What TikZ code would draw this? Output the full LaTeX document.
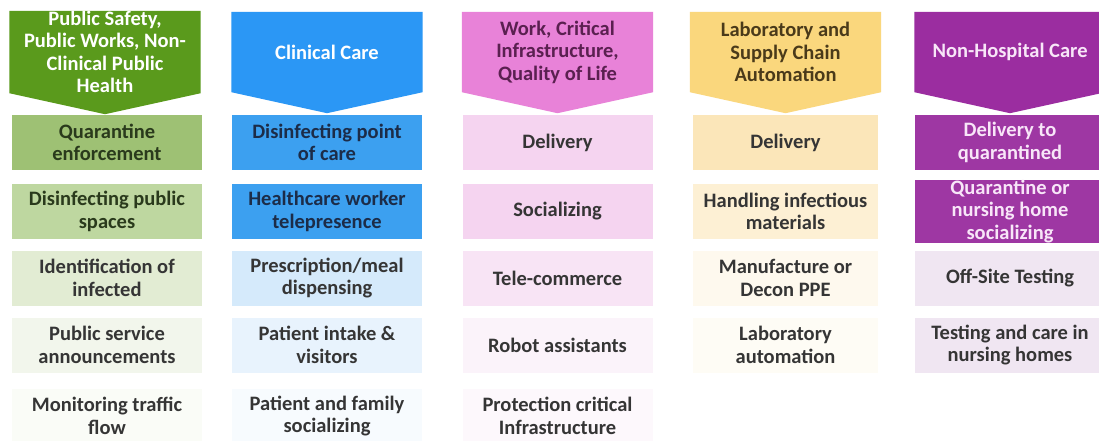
\documentclass[tikz,border=0pt]{standalone}
\usepackage{fontspec}
\setmainfont{Carlito}
\usetikzlibrary{calc,backgrounds}
\definecolor{grnHd}{HTML}{5A9A1C}
\definecolor{grnA}{HTML}{9EC174}
\definecolor{grnB}{HTML}{BED7A0}
\definecolor{grnC}{HTML}{E2ECD3}
\definecolor{grnD}{HTML}{F2F6EC}
\definecolor{grnE}{HTML}{FAFCF7}
\definecolor{bluHd}{HTML}{2B97F5}
\definecolor{bluA}{HTML}{3CA0F0}
\definecolor{bluC}{HTML}{D5EAFB}
\definecolor{bluD}{HTML}{E8F3FD}
\definecolor{bluE}{HTML}{F7FBFE}
\definecolor{pnkHd}{HTML}{E882D8}
\definecolor{pnkA}{HTML}{F5D4F0}
\definecolor{pnkC}{HTML}{F8E4F5}
\definecolor{pnkD}{HTML}{FBF3FA}
\definecolor{pnkE}{HTML}{FDF8FC}
\definecolor{ylwHd}{HTML}{FAD77D}
\definecolor{ylwA}{HTML}{FBE6B9}
\definecolor{ylwB}{HTML}{FDF0D4}
\definecolor{ylwC}{HTML}{FEF9EE}
\definecolor{ylwD}{HTML}{FEFCF5}
\definecolor{purHd}{HTML}{9B2DA0}
\definecolor{purA}{HTML}{9E37A3}
\definecolor{purC}{HTML}{F0E6F2}
\definecolor{txtDark}{HTML}{353535}
\definecolor{txtGrn}{HTML}{2A3A1C}
\definecolor{txtNavy}{HTML}{1C2C48}
\definecolor{txtPlum}{HTML}{5A2050}
\definecolor{txtBrown}{HTML}{4A3A1A}
\definecolor{txtLite}{HTML}{F8E6F8}

\begin{document}
\begin{tikzpicture}[x=1pt,y=-1pt]
			\tikzset{every node/.style={font=\bfseries\fontsize{20.5}{22.5}\selectfont,align=center,inner sep=0pt,text=txtDark}}
			\tikzset{head/.style={minimum width=191pt,minimum height=80pt}}
			\tikzset{item/.style={minimum width=190pt,minimum height=55pt}}
			\useasboundingbox (0,0) rectangle (1099,441);
			\node[head,text=white] (hdSafety) at (105,52) {Public Safety,\\Public Works, Non-\\Clinical Public\\Health};
			\node[head,text=white] (hdClinic) at (327,52) {Clinical Care};
			\node[head,text=txtPlum] (hdWork) at (557.5,52) {Work, Critical\\Infrastructure,\\Quality of Life};
			\node[head,text=txtBrown] (hdLab) at (785.5,52) {Laboratory and\\Supply Chain\\Automation};
			\node[head,text=txtLite] (hdHome) at (1010,52) {Non-Hospital Care};
			\node[item,fill=grnA,text=txtGrn] (safetyA) at (107,142.5) {Quarantine\\enforcement};
			\node[item,fill=grnB,text=txtGrn] (safetyB) at (107,211.5) {Disinfecting public\\spaces};
			\node[item,fill=grnC] (safetyC) at (107,278) {Identification of\\infected};
			\node[item,fill=grnD] (safetyD) at (107,345) {Public service\\announcements};
			\node[item,fill=grnE] (safetyE) at (107,416) {Monitoring traffic\\flow};
			\node[item,fill=bluA,text=txtNavy] (clinicA) at (327,142.5) {Disinfecting point\\of care};
			\node[item,fill=bluA,text=txtNavy] (clinicB) at (327,211.5) {Healthcare worker\\telepresence};
			\node[item,fill=bluC] (clinicC) at (327,278) {Prescription/meal\\dispensing};
			\node[item,fill=bluD] (clinicD) at (327,345) {Patient intake \&\\visitors};
			\node[item,fill=bluE] (clinicE) at (327,416) {Patient and family\\socializing};
			\node[item,fill=pnkA] (workA) at (557.5,142.5) {Delivery};
			\node[item,fill=pnkA] (workB) at (557.5,211.5) {Socializing};
			\node[item,fill=pnkC] (workC) at (557.5,278) {Tele-commerce};
			\node[item,fill=pnkD] (workD) at (557.5,345) {Robot assistants};
			\node[item,fill=pnkE] (workE) at (557.5,416) {Protection critical\\Infrastructure};
			\node[item,minimum width=185pt,fill=ylwA] (labA) at (785.5,142.5) {Delivery};
			\node[item,minimum width=185pt,fill=ylwB] (labB) at (785.5,211.5) {Handling infectious\\materials};
			\node[item,minimum width=185pt,fill=ylwC] (labC) at (785.5,278) {Manufacture or\\Decon PPE};
			\node[item,minimum width=185pt,fill=ylwD] (labD) at (785.5,345) {Laboratory\\automation};
			\node[item,fill=purA,text=txtLite] (homeA) at (1010,142.5) {Delivery to\\quarantined};
			\node[item,fill=purA,text=txtLite] (homeB) at (1010,211.5) {Quarantine or\\nursing home\\socializing};
			\node[item,fill=purC] (homeC) at (1010,278) {Off-Site Testing};
			\node[item,fill=purC] (homeD) at (1010,345) {Testing and care in\\nursing homes};
			\begin{scope}[on background layer]
				\fill[white] (0,0) rectangle (1099,441);
				\fill[grnHd] (hdSafety.north west) -- (hdSafety.north east) -- (hdSafety.south east) -- ($(hdSafety.south)+(0,21)$) -- (hdSafety.south west) -- cycle;
				\fill[bluHd] (hdClinic.north west) -- (hdClinic.north east) -- (hdClinic.south east) -- ($(hdClinic.south)+(0,21)$) -- (hdClinic.south west) -- cycle;
				\fill[pnkHd] (hdWork.north west) -- (hdWork.north east) -- (hdWork.south east) -- ($(hdWork.south)+(0,21)$) -- (hdWork.south west) -- cycle;
				\fill[ylwHd] (hdLab.north west) -- (hdLab.north east) -- (hdLab.south east) -- ($(hdLab.south)+(0,21)$) -- (hdLab.south west) -- cycle;
				\fill[purHd] (hdHome.north west) -- (hdHome.north east) -- (hdHome.south east) -- ($(hdHome.south)+(0,21)$) -- (hdHome.south west) -- cycle;
			\end{scope}
		\end{tikzpicture}
\end{document}
